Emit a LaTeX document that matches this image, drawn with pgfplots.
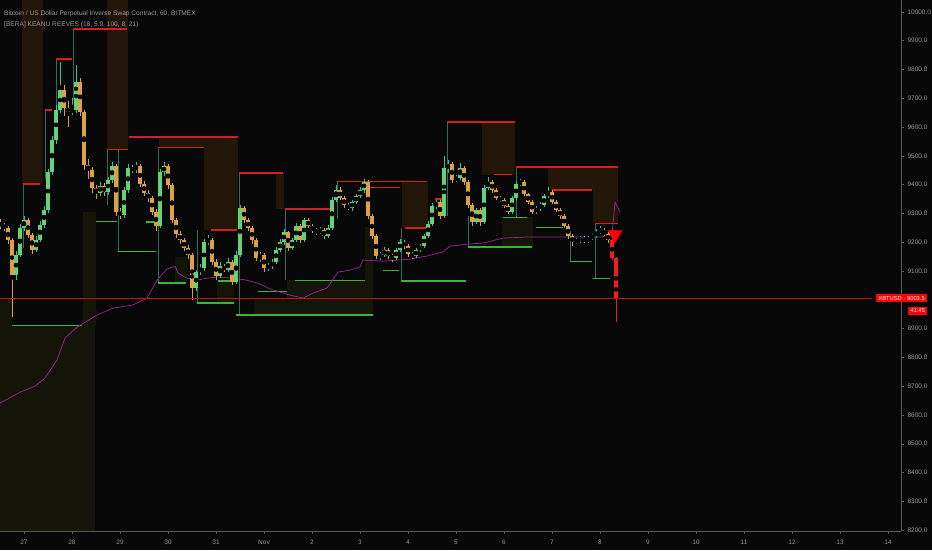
\documentclass[border=0pt]{standalone}
\usepackage{fontspec}
\setmainfont{Liberation Sans}
\usepackage{pgfplots}
\usepackage{pgfplotstable}
\pgfplotsset{compat=1.18}

\definecolor{bg}{RGB}{8,8,8}
\definecolor{brownband}{RGB}{34,22,9}
\definecolor{oliveband}{RGB}{20,20,9}
\definecolor{boxred}{RGB}{215,30,30}
\definecolor{boxgreen}{RGB}{60,180,60}
\definecolor{sidecol}{RGB}{70,150,130}
\definecolor{vwap}{RGB}{150,40,150}
\definecolor{upbody}{RGB}{100,210,120}
\definecolor{upwick}{RGB}{40,200,160}
\definecolor{dnbody}{RGB}{220,160,70}
\definecolor{lastred}{RGB}{240,30,30}
\definecolor{mainred}{RGB}{190,20,20}
\definecolor{txtgrey}{RGB}{150,150,150}
\definecolor{axgrey}{RGB}{90,90,90}

% t = hours from Oct 27 00:00, 2h candles
\pgfplotstableread{
t o h l c
-12 9265 9280 9245 9259
-10 9259 9268 9240 9249
-8 9249 9255 9195 9207
-6 9207 9215 8940 9086
-4 9086 9170 9070 9155
-2 9155 9262 9148 9249
0 9249 9290 9240 9277
2 9277 9285 9215 9225
4 9225 9232 9160 9173
6 9173 9220 9165 9207
8 9207 9272 9200 9259
10 9259 9325 9250 9311
12 9311 9455 9300 9443
14 9443 9570 9435 9555
16 9555 9675 9540 9659
18 9659 9825 9650 9728
20 9728 9745 9640 9666
22 9666 9690 9600 9652
24 9652 9700 9640 9659
26 9659 9815 9650 9756
28 9756 9770 9640 9652
30 9652 9660 9450 9468
32 9468 9490 9420 9450
34 9450 9462 9370 9388
36 9388 9400 9350 9371
38 9371 9410 9360 9395
40 9395 9405 9360 9374
42 9374 9425 9365 9416
44 9416 9480 9405 9464
46 9464 9470 9290 9305
48 9305 9318 9280 9294
50 9294 9392 9285 9381
52 9381 9470 9372 9457
54 9457 9468 9440 9450
56 9450 9480 9442 9464
58 9464 9472 9390 9402
60 9402 9412 9360 9371
62 9371 9380 9340 9353
64 9353 9362 9295 9305
66 9305 9315 9240 9256
68 9256 9455 9250 9443
70 9443 9478 9430 9464
72 9464 9472 9385 9398
74 9398 9405 9265 9277
76 9277 9285 9215 9228
78 9228 9240 9195 9207
80 9207 9215 9170 9180
82 9180 9190 9140 9155
84 9155 9162 9000 9041
86 9041 9105 9030 9096
88 9096 9125 9085 9110
90 9110 9212 9100 9200
92 9200 9225 9190 9207
94 9207 9215 9120 9131
96 9131 9140 9070 9082
98 9082 9130 9075 9117
100 9117 9125 9095 9103
102 9103 9145 9095 9131
104 9131 9138 9050 9062
106 9062 9168 9055 9155
108 9155 9330 9148 9318
110 9318 9325 9268 9277
112 9277 9285 9240 9249
114 9249 9258 9195 9207
116 9207 9215 9135 9145
118 9145 9165 9130 9155
120 9155 9162 9098 9110
122 9110 9128 9100 9117
124 9117 9140 9108 9131
126 9131 9182 9125 9173
128 9173 9210 9165 9200
130 9200 9245 9192 9235
132 9235 9240 9170 9180
134 9180 9215 9172 9207
136 9207 9265 9200 9256
138 9256 9262 9198 9207
140 9207 9285 9200 9277
142 9277 9285 9248 9256
144 9256 9262 9232 9242
146 9242 9250 9225 9235
148 9235 9252 9228 9242
150 9242 9248 9212 9221
152 9221 9258 9215 9249
154 9249 9358 9242 9346
156 9346 9400 9338 9381
158 9381 9390 9345 9353
160 9353 9360 9320 9329
162 9329 9336 9310 9318
164 9318 9348 9310 9339
166 9339 9368 9332 9360
168 9360 9390 9352 9381
170 9381 9420 9372 9409
172 9409 9415 9282 9291
174 9291 9298 9212 9221
176 9221 9228 9140 9152
178 9152 9165 9138 9155
180 9155 9182 9148 9173
182 9173 9180 9140 9152
184 9152 9160 9132 9145
186 9145 9180 9138 9173
188 9173 9210 9165 9200
190 9200 9208 9178 9187
192 9187 9195 9150 9159
194 9159 9165 9140 9152
196 9152 9180 9145 9173
198 9173 9195 9165 9187
200 9187 9228 9180 9221
202 9221 9272 9215 9263
204 9263 9335 9255 9325
206 9325 9348 9315 9339
208 9339 9345 9280 9291
210 9291 9500 9285 9457
212 9457 9485 9440 9471
214 9471 9478 9405 9416
216 9416 9435 9408 9423
218 9423 9475 9415 9457
220 9457 9465 9398 9409
222 9409 9415 9318 9329
224 9329 9335 9255 9270
226 9270 9320 9262 9311
228 9311 9318 9258 9270
230 9270 9398 9262 9388
232 9388 9425 9380 9409
234 9409 9415 9372 9381
236 9381 9388 9345 9353
238 9353 9360 9338 9346
240 9346 9352 9318 9325
242 9325 9332 9298 9305
244 9305 9362 9298 9353
246 9353 9412 9345 9402
248 9402 9420 9395 9409
250 9409 9415 9360 9367
252 9367 9372 9332 9339
254 9339 9345 9298 9305
256 9305 9325 9298 9318
258 9318 9338 9310 9329
260 9329 9368 9322 9360
262 9360 9390 9352 9374
264 9374 9380 9332 9339
266 9339 9345 9305 9311
268 9311 9318 9282 9291
270 9291 9298 9248 9256
272 9256 9262 9212 9221
274 9221 9228 9188 9200
276 9200 9215 9192 9207
278 9207 9222 9198 9214
280 9214 9220 9196 9204
282 9204 9222 9198 9214
284 9214 9230 9208 9221
286 9221 9245 9215 9235
288 9235 9255 9228 9242
290 9242 9248 9220 9228
292 9228 9235 9198 9207
}\candles

\pgfplotstableread{
t o h l c
294 9207 9212 9138 9145
296 9145 9150 8922 9003.5
}\lastcandles

\pgfplotstableread{
t p
24.5 9940
51.5 9940
nan nan
16 9836
24 9836
nan nan
10.5 9659
14 9659
nan nan
52.5 9565
107 9565
nan nan
67.5 9530
90 9530
nan nan
41.5 9523
52 9523
nan nan
107.5 9440
129.5 9440
nan nan
-0.5 9402
8 9402
nan nan
130.5 9315
154 9315
nan nan
93.5 9242
106.5 9242
nan nan
211.5 9617
245.5 9617
nan nan
156.5 9412
201.5 9412
nan nan
169.5 9391
188 9391
nan nan
205.5 9350
210.5 9350
nan nan
246 9461
297 9461
nan nan
235 9436
244 9436
nan nan
264 9381
284 9381
nan nan
190.5 9249
202 9249
nan nan
285.5 9266
297 9266
}\tops

\pgfplotstableread{
t p
-6 8912
29 8912
nan nan
36 9273
46.5 9273
nan nan
47 9169
66 9169
nan nan
61 9270
66.5 9270
nan nan
67 9058
81 9058
nan nan
86.5 8989
105 8989
nan nan
106 8947
174.5 8947
nan nan
117 9030
131.5 9030
nan nan
135.5 9068
170.5 9068
nan nan
97 9065
104 9065
nan nan
179.5 9103
187.5 9103
nan nan
188.5 9065
221 9065
nan nan
222 9183
254 9183
nan nan
239.5 9287
251.5 9287
nan nan
273 9134
284 9134
nan nan
284.5 9075
293 9075
nan nan
256 9252
269.5 9252
}\bottoms

\pgfplotstableread{
t p
24.5 9940
24.5 9693
nan nan
16 9836
16 9600
nan nan
10.5 9659
10.5 9420
nan nan
-0.5 9402
-0.5 9180
nan nan
41.5 9523
41.5 9330
nan nan
47 9523
47 9169
nan nan
67 9530
67 9058
nan nan
86.5 9242
86.5 8989
nan nan
107.5 9440
107.5 8947
nan nan
130.5 9315
130.5 9068
nan nan
156.5 9412
156.5 9280
nan nan
188.5 9249
188.5 9065
nan nan
211.5 9617
211.5 9290
nan nan
222 9290
222 9183
nan nan
246 9461
246 9287
nan nan
273 9240
273 9134
nan nan
285.5 9266
285.5 9075
}\sides

\pgfplotstableread{
t p
-12 8641
-2 8679
5.5 8700
10.5 8728
16.5 8791
20.5 8867
26.5 8905
36.5 8947
44.5 8971
54.5 8982
61.5 9006
66.5 9068
71.5 9107
75.5 9117
77 9093
81.5 9075
86.5 9068
91.5 9075
97 9079
104.5 9075
111.5 9068
116.5 9058
124.5 9034
133 9016
139.5 9006
144.5 9023
151.5 9041
157 9096
163 9103
168 9114
169.5 9138
179.5 9134
193 9141
201.5 9152
209.5 9166
213 9186
221.5 9193
229.5 9197
239.5 9214
251.5 9218
269.5 9218
288 9218
294 9225
295.5 9339
298 9305
}\vwapline

\begin{document}
\begin{tikzpicture}
\fill[bg] (0,0) rectangle (932pt,550pt);
\path[use as bounding box] (0,0) rectangle (932pt,550pt);
\begin{axis}[
  at={(0pt,19pt)}, anchor=south west,
  scale only axis, width=901pt, height=531pt,
  xmin=-12, xmax=438.5, ymin=8197, ymax=10041,
  clip=false,
  axis x line*=bottom, axis y line*=right,
  axis line style={draw=axgrey, line width=0.6pt},
  tick style={draw=axgrey, line width=0.5pt},
  tick align=outside, major tick length=3pt,
  xtick={0,24,...,432},
  xticklabels={27,28,29,30,31,Nov,2,3,4,5,6,7,8,9,10,11,12,13,14},
  ytick={8200,8300,8400,8500,8600,8700,8800,8900,9100,9200,9300,9400,9500,9600,9700,9800,9900,10000},
  yticklabel pos=right,
  scaled y ticks=false,
  /pgf/number format/.cd, fixed, fixed zerofill, precision=1, 1000 sep={}, assume math mode=true,
  /pgfplots/.cd,
  tick label style={font=\fontsize{6.5}{7}\selectfont, text=txtgrey},
  xticklabel style={yshift=-2pt},
  unbounded coords=jump,
]
% shaded zones
\addplot[draw=none, fill=oliveband] coordinates {(-12,8197) (35.5,8197) (35.5,8912) (-12,8912)} -- cycle;
\addplot[draw=none, fill=oliveband] coordinates {(-12,8912) (-6,8912) (-6,9006) (-12,9006)} -- cycle;
\addplot[draw=none, fill=oliveband] coordinates {(29.5,8912) (36,8912) (36,9305) (29.5,9305)} -- cycle;
\addplot[draw=none, fill=oliveband] coordinates {(115,8947) (174.5,8947) (174.5,9006) (115,9006)} -- cycle;
\addplot[draw=none, fill=oliveband] coordinates {(131.5,9006) (174.5,9006) (174.5,9068) (131.5,9068)} -- cycle;
\addplot[draw=none, fill=oliveband] coordinates {(170.5,9068) (174.5,9068) (174.5,9252) (170.5,9252)} -- cycle;
\addplot[draw=none, fill=oliveband] coordinates {(239,9183) (254.5,9183) (254.5,9287) (239,9287)} -- cycle;
\addplot[draw=none, fill=oliveband] coordinates {(75.5,9058) (81.5,9058) (81.5,9148) (75.5,9148)} -- cycle;
\addplot[draw=none, fill=oliveband] coordinates {(96.5,8989) (105,8989) (105,9068) (96.5,9068)} -- cycle;
\addplot[draw=none, fill=brownband] coordinates {(-1,9402) (9.5,9402) (9.5,10041) (-1,10041)} -- cycle;
\addplot[draw=none, fill=brownband] coordinates {(41.5,9523) (52,9523) (52,10041) (41.5,10041)} -- cycle;
\addplot[draw=none, fill=brownband] coordinates {(67.5,9530) (90,9530) (90,9565) (67.5,9565)} -- cycle;
\addplot[draw=none, fill=brownband] coordinates {(90,9242) (107,9242) (107,9565) (90,9565)} -- cycle;
\addplot[draw=none, fill=brownband] coordinates {(126,9315) (130,9315) (130,9440) (126,9440)} -- cycle;
\addplot[draw=none, fill=brownband] coordinates {(189,9249) (202,9249) (202,9409) (189,9409)} -- cycle;
\addplot[draw=none, fill=brownband] coordinates {(229,9433) (245.5,9433) (245.5,9617) (229,9617)} -- cycle;
\addplot[draw=none, fill=brownband] coordinates {(262,9381) (284.5,9381) (284.5,9461) (262,9461)} -- cycle;
\addplot[draw=none, fill=brownband] coordinates {(284.5,9266) (297,9266) (297,9461) (284.5,9461)} -- cycle;
% boxes
\addplot[sidecol, line width=0.5pt, opacity=0.7] table[x=t, y=p] {\sides};
\addplot[boxred, line width=1.2pt] table[x=t, y=p] {\tops};
\addplot[boxgreen, line width=1.2pt] table[x=t, y=p] {\bottoms};
% moving line
\addplot[vwap, line width=0.7pt] table[x=t, y=p] {\vwapline};
% candles: up
\addplot[only marks, mark=none, restrict expr to domain={\thisrow{c}-\thisrow{o}}{0:10000},
  error bars/.cd, y dir=both, y explicit, error mark=none,
  error bar style={line width=0.8pt, color=upwick}]
  table[x=t, y expr={(\thisrow{h}+\thisrow{l})/2}, y error expr={(\thisrow{h}-\thisrow{l})/2}] {\candles};
\addplot[only marks, mark=none, restrict expr to domain={\thisrow{c}-\thisrow{o}}{0:10000},
  error bars/.cd, y dir=both, y explicit, error mark=none,
  error bar style={line width=3.2pt, color=upbody}]
  table[x=t, y expr={(\thisrow{o}+\thisrow{c})/2}, y error expr={max(abs(\thisrow{c}-\thisrow{o})/2,2)}] {\candles};
% candles: down
\addplot[only marks, mark=none, restrict expr to domain={\thisrow{c}-\thisrow{o}}{-10000:-0.1},
  error bars/.cd, y dir=both, y explicit, error mark=none,
  error bar style={line width=0.8pt, color=dnbody}]
  table[x=t, y expr={(\thisrow{h}+\thisrow{l})/2}, y error expr={(\thisrow{h}-\thisrow{l})/2}] {\candles};
\addplot[only marks, mark=none, restrict expr to domain={\thisrow{c}-\thisrow{o}}{-10000:-0.1},
  error bars/.cd, y dir=both, y explicit, error mark=none,
  error bar style={line width=3.2pt, color=dnbody}]
  table[x=t, y expr={(\thisrow{o}+\thisrow{c})/2}, y error expr={max(abs(\thisrow{c}-\thisrow{o})/2,2)}] {\candles};
% last candles
\addplot[only marks, mark=none,
  error bars/.cd, y dir=both, y explicit, error mark=none,
  error bar style={line width=0.8pt, color=lastred}]
  table[x=t, y expr={(\thisrow{h}+\thisrow{l})/2}, y error expr={(\thisrow{h}-\thisrow{l})/2}] {\lastcandles};
\addplot[only marks, mark=none,
  error bars/.cd, y dir=both, y explicit, error mark=none,
  error bar style={line width=3.2pt, color=lastred}]
  table[x=t, y expr={(\thisrow{o}+\thisrow{c})/2}, y error expr={abs(\thisrow{c}-\thisrow{o})/2}] {\lastcandles};
% last price line
\addplot[mainred, line width=1.1pt] coordinates {(-12,9003.5) (424,9003.5)};
% sell signal
\addplot[only marks, mark=triangle*, mark size=8pt, mark options={rotate=180, fill=red, draw=red}] coordinates {(295.5,9226)};
% titles and tags
\node[anchor=north west, inner sep=0pt, text=txtgrey, align=left,
  font=\fontsize{6.6}{11}\selectfont] at (axis cs:-10,10005)
  {Bitcoin / US Dollar Perpetual Inverse Swap Contract, 60, BITMEX\\{[BERA]} KEANU REEVES (18, 5.9, 100, 8, 21)};
\node[anchor=east, fill=red, text=white, inner xsep=2pt, inner ysep=1.6pt,
  font=\fontsize{5.8}{6}\selectfont] at (axis cs:451.5,9006) {XBTUSD · 9003.5};
\node[anchor=east, fill=red, text=white, inner xsep=2pt, inner ysep=1.6pt,
  font=\fontsize{5.8}{6}\selectfont] at (axis cs:451.5,8961) {41:45};
\end{axis}
\end{tikzpicture}
\end{document}
